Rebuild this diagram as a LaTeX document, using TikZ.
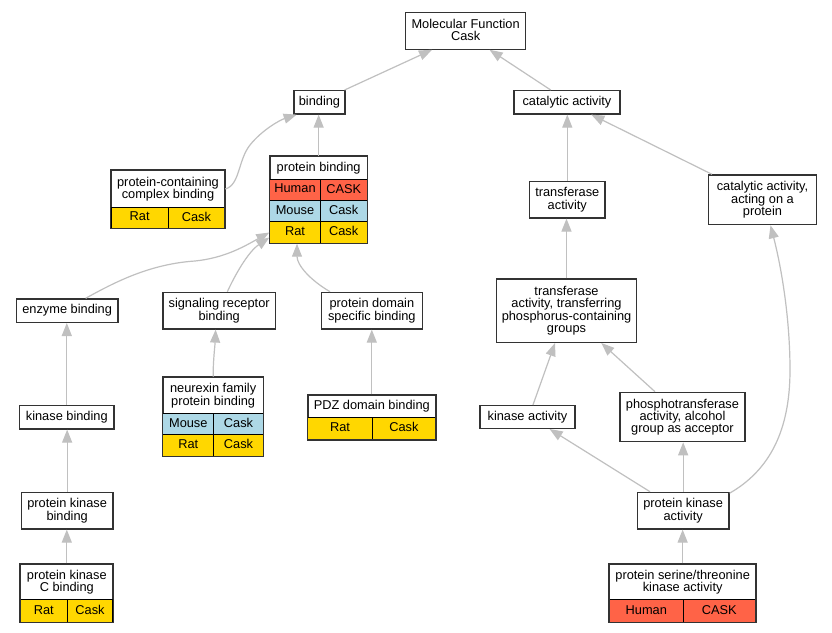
\documentclass[tikz,border=0pt]{standalone}
\usepackage{fontspec}
\setmainfont{Liberation Sans}
\usetikzlibrary{arrows.meta}
\definecolor{hred}{HTML}{FF6347}
\definecolor{hblue}{HTML}{ADD8E6}
\definecolor{hgold}{HTML}{FFD700}
\definecolor{edgegray}{HTML}{C0C0C0}
\definecolor{boxgray}{HTML}{333333}
\newcommand\gofont{\fontsize{12.8}{12.3}\selectfont}
\newcommand\gs{\rule[-2.6pt]{0pt}{9.6pt}}
\tikzset{
  gobox/.style={draw=boxgray, line width=1.3pt, fill=white, inner sep=0pt, align=center, anchor=north west, font=\gofont},
  cell/.style={draw=black, line width=1pt, inner sep=0pt, anchor=north west, font=\gofont},
  human/.style={cell, fill=hred},
  mouse/.style={cell, fill=hblue},
  rat/.style={cell, fill=hgold},
  frame/.style={draw=boxgray, line width=1.3pt},
  edge/.style={draw=edgegray, line width=1.2pt, -{Triangle[length=13pt,width=10pt]}}
}
\begin{document}
\begin{tikzpicture}[x=1pt,y=-1pt]
\useasboundingbox[fill=white] (0,0) rectangle (832,632);

% plain nodes
\node[gobox, minimum width=120pt, minimum height=36.5pt] (mf) at (405,12) {\gs Molecular Function\\Cask\gs};
\node[gobox, minimum width=51pt, minimum height=23.3pt] (bind) at (293.3,90) {\gs binding\gs};
\node[gobox, minimum width=106pt, minimum height=23.3pt] (cat) at (513.3,90) {\gs catalytic activity\gs};
\node[gobox, minimum width=101.6pt, minimum height=23.4pt] (enz) at (15.7,298.3) {\gs enzyme binding\gs};
\node[gobox, minimum width=112.4pt, minimum height=36.6pt] (sig) at (162.3,291.7) {\gs signaling receptor\\binding\gs};
\node[gobox, minimum width=101pt, minimum height=36.6pt] (pdsb) at (320.7,291.7) {\gs protein domain\\specific binding\gs};
\node[gobox, minimum width=94.3pt, minimum height=23.3pt] (kb) at (19,405) {\gs kinase binding\gs};
\node[gobox, minimum width=91.6pt, minimum height=36.6pt] (pkb) at (20.7,491.7) {\gs protein kinase\\binding\gs};
\node[gobox, minimum width=75.3pt, minimum height=36.6pt] (tr) at (529,180.7) {\gs transferase\\activity\gs};
\node[gobox, minimum width=108.3pt, minimum height=49.7pt] (caop) at (707.7,174.3) {\gs catalytic activity,\\acting on a\\protein\gs};
\node[gobox, minimum width=140.3pt, minimum height=63.4pt] (ttp) at (495.7,278.3) {\gs transferase\\activity, transferring\\phosphorus-containing\\groups\gs};
\node[gobox, minimum width=95pt, minimum height=22.7pt] (ka) at (479.3,405) {\gs kinase activity\gs};
\node[gobox, minimum width=125pt, minimum height=49.3pt] (ph) at (619.3,391.7) {\gs phosphotransferase\\activity, alcohol\\group as acceptor\gs};
\node[gobox, minimum width=91.6pt, minimum height=36.6pt] (pka) at (636.7,491.7) {\gs protein kinase\\activity\gs};

% protein-containing complex binding
\node[gobox, minimum width=113.3pt, minimum height=36.7pt] (pccb) at (110.7,170) {\gs protein-containing\\complex binding\gs};
\node[rat, minimum width=57pt, minimum height=21pt] (pccb1a) at (110.7,206.7) {\gs Rat\gs};
\node[rat, minimum width=56.3pt, minimum height=21pt] (pccb1b) at (167.7,206.7) {\gs Cask\gs};
\draw[frame] (pccb.north west) rectangle (pccb1b.south east);

% protein binding
\node[gobox, minimum width=97.4pt, minimum height=23pt] (pb) at (269.3,155.7) {\gs protein binding\gs};
\node[human, minimum width=50.4pt, minimum height=21.3pt] (pb1a) at (269.3,178.7) {\gs Human\gs};
\node[human, minimum width=47pt, minimum height=21.3pt] (pb1b) at (319.7,178.7) {\gs CASK\gs};
\node[mouse, minimum width=50.4pt, minimum height=21.3pt] (pb2a) at (269.3,200) {\gs Mouse\gs};
\node[mouse, minimum width=47pt, minimum height=21.3pt] (pb2b) at (319.7,200) {\gs Cask\gs};
\node[rat, minimum width=50.4pt, minimum height=21.4pt] (pb3a) at (269.3,221.3) {\gs Rat\gs};
\node[rat, minimum width=47pt, minimum height=21.4pt] (pb3b) at (319.7,221.3) {\gs Cask\gs};
\draw[frame] (pb.north west) rectangle (pb3b.south east);

% neurexin family protein binding
\node[gobox, minimum width=100.4pt, minimum height=36.6pt] (nx) at (162.3,376.7) {\gs neurexin family\\protein binding\gs};
\node[mouse, minimum width=51pt, minimum height=21pt] (nx1a) at (162.3,413.3) {\gs Mouse\gs};
\node[mouse, minimum width=49.4pt, minimum height=21pt] (nx1b) at (213.3,413.3) {\gs Cask\gs};
\node[rat, minimum width=51pt, minimum height=21.4pt] (nx2a) at (162.3,434.3) {\gs Rat\gs};
\node[rat, minimum width=49.4pt, minimum height=21.4pt] (nx2b) at (213.3,434.3) {\gs Cask\gs};
\draw[frame] (nx.north west) rectangle (nx2b.south east);

% PDZ domain binding
\node[gobox, minimum width=127.7pt, minimum height=22.4pt] (pdz) at (307.3,394.3) {\gs PDZ domain binding\gs};
\node[rat, minimum width=64.4pt, minimum height=22.3pt] (pdz1a) at (307.3,416.7) {\gs Rat\gs};
\node[rat, minimum width=63.3pt, minimum height=22.3pt] (pdz1b) at (371.7,416.7) {\gs Cask\gs};
\draw[frame] (pdz.north west) rectangle (pdz1b.south east);

% protein kinase C binding
\node[gobox, minimum width=92.3pt, minimum height=36pt] (pkc) at (20,563.3) {\gs protein kinase\\C binding\gs};
\node[rat, minimum width=46.7pt, minimum height=22.4pt] (pkc1a) at (20,599.3) {\gs Rat\gs};
\node[rat, minimum width=45.6pt, minimum height=22.4pt] (pkc1b) at (66.7,599.3) {\gs Cask\gs};
\draw[frame] (pkc.north west) rectangle (pkc1b.south east);

% protein serine/threonine kinase activity
\node[gobox, minimum width=146pt, minimum height=36pt] (pst) at (609,563.3) {\gs protein serine/threonine\\kinase activity\gs};
\node[human, minimum width=73.7pt, minimum height=22.4pt] (pst1a) at (609,599.3) {\gs Human\gs};
\node[human, minimum width=72.3pt, minimum height=22.4pt] (pst1b) at (682.7,599.3) {\gs CASK\gs};
\draw[frame] (pst.north west) rectangle (pst1b.south east);

% edges
\draw[edge] ([xshift=-1pt]bind.north east) -- ([xshift=27pt]mf.south west);
\draw[edge] ([xshift=37.4pt]cat.north west) -- ([xshift=-36.7pt]mf.south east);
\draw[edge] (pccb.east) .. controls (240,185) and (238,160) .. (250,145) .. controls (262,130) and (280,120) .. ([xshift=3.4pt]bind.south west);
\draw[edge] (pb.north) -- (bind.south -| pb.north);
\draw[edge] ([xshift=18.5pt]enz.north) .. controls (115,282) and (150,264) .. (195,261) .. controls (225,258) and (245,246) .. (pb3a.west);
\draw[edge] ([xshift=8.2pt]sig.north) .. controls (235,275) and (248,252) .. ([yshift=-5pt]pb3a.west);
\draw[edge] ([xshift=9.3pt]pdsb.north west) .. controls (310,280) and (297,265) .. ([xshift=2pt]pb3a.south);
\draw[edge] (kb.north) -- (enz.south -| kb.north);
\draw[edge] (pkb.north) -- (kb.south -| pkb.north);
\draw[edge] (pkc.north) -- (pkb.south -| pkc.north);
\draw[edge] (nx.north) .. controls (213,362) and (215,345) .. ([xshift=-3.5pt]sig.south);
\draw[edge] (pdz.north) -- (pdsb.south -| pdz.north);
\draw[edge] (tr.north) -- (cat.south -| tr.north);
\draw[edge] ([xshift=4.3pt]caop.north west) -- ([xshift=-29.3pt]cat.south east);
\draw[edge] (ttp.north) -- (tr.south -| ttp.north);
\draw[edge] ([xshift=5.5pt]ka.north) -- ([xshift=59.3pt]ttp.south west);
\draw[edge] ([xshift=35.7pt]ph.north west) -- ([xshift=-36pt]ttp.south east);
\draw[edge] ([xshift=13.3pt]pka.north west) -- ([xshift=-26pt]ka.south east);
\draw[edge] (pka.north) -- (ph.south -| pka.north);
\draw[edge] ([yshift=-1.5pt]pka.north east) .. controls (770,470) and (790,430) .. (790,370) .. controls (790,320) and (782,270) .. ([xshift=8pt]caop.south);
\draw[edge] (pst.north) -- (pka.south -| pst.north);
\end{tikzpicture}
\end{document}
